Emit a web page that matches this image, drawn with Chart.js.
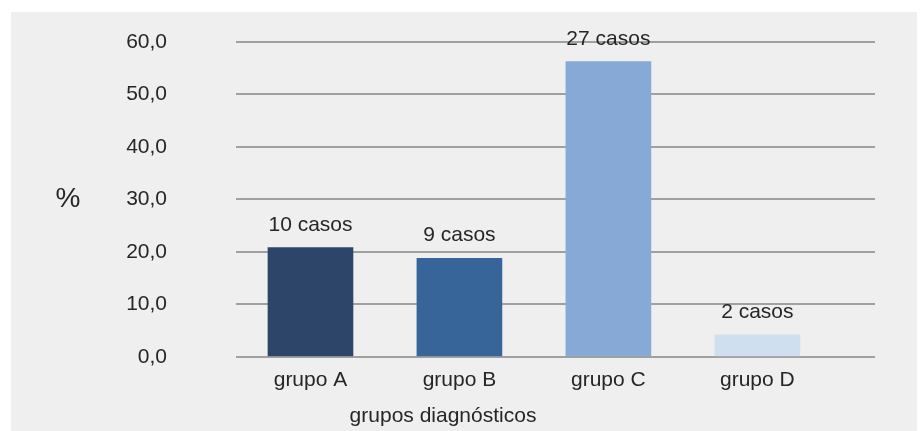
<!DOCTYPE html>
<html>
<head>
<meta charset="utf-8">
<script src="https://cdn.jsdelivr.net/npm/chart.js@4"></script>
<style>
	body { margin: 0; background: #ffffff; }
	#box { position: absolute; left: 11px; top: 12px; width: 906px; height: 419px; background: #efefef; }
</style>
</head>
<body>
<div id="box"><canvas id="canvas"></canvas></div>
<script>
const categories = ["grupo A", "grupo B", "grupo C", "grupo D"];
const percentages = [20.83, 18.75, 56.25, 4.17];
const cases = [10, 9, 27, 2];
const yTicks = [0, 10, 20, 30, 40, 50, 60];
const barColors = ["#2c4568", "#376599", "#86aad5", "#cfdff0"];

const FONT = "'Liberation Sans', Arial, sans-serif";
const TEXT = "#262626";

// "%" on the left and "N casos" above each bar
const extraText = {
	id: "extraText",
	afterDatasetsDraw(chart) {
		const ctx = chart.ctx;
		const area = chart.chartArea;
		ctx.save();
		ctx.fillStyle = TEXT;
		ctx.textAlign = "center";
		ctx.textBaseline = "middle";
		ctx.font = "28px " + FONT;
		ctx.fillText("%", 57, (area.top + area.bottom) / 2);

		ctx.font = "21px " + FONT;
		ctx.textBaseline = "alphabetic";
		chart.getDatasetMeta(0).data.forEach((bar, i) => {
			ctx.fillText(cases[i] + " casos", bar.x, bar.y - 17);
		});
		ctx.restore();
	},
};

new Chart(document.getElementById("canvas"), {
	type: "bar",
	data: {
		datasets: [
			{
				data: percentages.map((v, i) => ({ x: i + 0.5, y: v })),
				backgroundColor: barColors,
				borderWidth: 0,
				barThickness: 85,
			},
		],
	},
	options: {
		responsive: true,
		maintainAspectRatio: false,
		animation: false,
		layout: { padding: { top: 30, right: 42, left: 0, bottom: 0 } },
		plugins: {
			legend: { display: false },
			tooltip: { enabled: false },
			title: {
				display: true,
				position: "bottom",
				text: "grupos diagnósticos",
				color: TEXT,
				font: { family: FONT, size: 21, weight: "normal" },
				padding: { top: 0, bottom: 2 },
			},
		},
		scales: {
			x: {
				type: "linear",
				offset: false,
				min: 0,
				max: 4.29,
				grid: { display: false, drawTicks: false },
				border: { display: false },
				afterBuildTicks: (scale) => {
					scale.ticks = categories.map((_c, i) => ({ value: i + 0.5 }));
				},
				afterFit: (scale) => {
					scale.height = 47;
				},
				ticks: {
					padding: 11,
					autoSkip: false,
					maxRotation: 0,
					color: TEXT,
					font: { family: FONT, size: 21 },
					callback: (v) => categories[Math.round(v - 0.5)],
				},
			},
			y: {
				min: 0,
				max: 60,
				afterBuildTicks: (scale) => {
					scale.ticks = yTicks.map((v) => ({ value: v }));
				},
				afterFit: (scale) => {
					scale.width = 225;
				},
				// invisible tick marks push the labels away from the grid
				grid: { color: "#a0a0a0", lineWidth: 2, drawTicks: true, tickLength: 69, tickColor: "rgba(0,0,0,0)" },
				border: { display: false },
				ticks: {
					padding: 0,
					color: TEXT,
					font: { family: FONT, size: 21 },
					callback: (v) => v.toFixed(1).replace(".", ","),
				},
			},
		},
	},
	plugins: [extraText],
});
</script>
</body>
</html>
